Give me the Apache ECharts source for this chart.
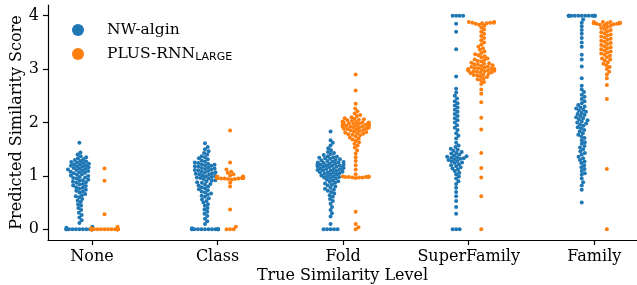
<!DOCTYPE html>
<html>
<head>
<meta charset="utf-8">
<script src="https://cdn.jsdelivr.net/npm/echarts@6/dist/echarts.min.js"></script>
<style>
  html, body { margin: 0; padding: 0; background: #fff; }
  #chart-container { width: 637px; height: 285px; }
</style>
</head>
<body>
<div id="chart-container"></div>
<script>
var categories = ["None", "Class", "Fold", "SuperFamily", "Family"];
var methods = ["NW-algin", "PLUS-RNN_LARGE"];
var yTicks = [0, 1, 2, 3, 4];

// NW-algin scores, one array per true similarity level
var nwNone = [0, 0, 0, 0, 0, 0, 0, 0, 0, 0, 0, 0, 0.03, 0.05,
  0.12, 0.17, 0.22, 0.27, 0.31, 0.36, 0.40, 0.44, 0.47, 0.51, 0.54, 0.57,
  0.60, 0.62, 0.64, 0.66, 0.69, 0.71, 0.72, 0.74, 0.76, 0.78, 0.79, 0.81, 0.82, 0.84, 0.85, 0.87,
  0.88, 0.89, 0.91, 0.92, 0.93, 0.95, 0.96, 0.97, 0.98, 1.00, 1.01, 1.02, 1.03, 1.05, 1.06, 1.07,
  1.08, 1.09, 1.10, 1.11, 1.12, 1.13, 1.14, 1.15, 1.16, 1.17, 1.18, 1.19, 1.20, 1.21, 1.22, 1.23,
  1.24, 1.25, 1.26, 1.27, 1.28, 1.30, 1.31, 1.33, 1.35, 1.37, 1.40, 1.44, 1.62];
var nwClass = [0, 0, 0, 0, 0, 0, 0, 0, 0, 0, 0, 0, 0.02,
  0.10, 0.15, 0.20, 0.25, 0.29, 0.33, 0.37, 0.40, 0.44, 0.47, 0.50, 0.53, 0.56, 0.58, 0.61, 0.63,
  0.65, 0.67, 0.69, 0.71, 0.73, 0.75, 0.77, 0.79,
  0.80, 0.82, 0.84, 0.85, 0.87, 0.88, 0.90, 0.91, 0.92, 0.94, 0.95, 0.96, 0.97, 0.98, 0.99, 1.00,
  1.01, 1.02, 1.03, 1.04, 1.05, 1.06, 1.07, 1.08, 1.09, 1.10, 1.11, 1.12, 1.13, 1.14, 1.15, 1.16,
  1.17, 1.18, 1.19, 1.20, 1.21, 1.22, 1.23, 1.24, 1.25, 1.27, 1.29, 1.31, 1.33, 1.35, 1.37, 1.40,
  1.43, 1.46, 1.50, 1.54, 1.61];
var nwFold = [0, 0, 0, 0, 0, 0.10, 0.24, 0.30, 0.36, 0.42, 0.48, 0.53, 0.57, 0.61, 0.64, 0.67,
  0.70, 0.72, 0.74, 0.76, 0.78, 0.80, 0.82, 0.84, 0.86, 0.87, 0.89, 0.90, 0.92, 0.93, 0.95, 0.96,
  0.97, 0.98, 0.99, 1.00, 1.01, 1.02, 1.03, 1.04, 1.05, 1.06, 1.07, 1.07, 1.08, 1.09, 1.10, 1.10,
  1.11, 1.12, 1.13, 1.13, 1.14, 1.15, 1.15, 1.16, 1.17, 1.17, 1.18, 1.19, 1.19, 1.20, 1.21, 1.21,
  1.22, 1.23, 1.23, 1.24, 1.25, 1.25, 1.26, 1.27, 1.28, 1.29, 1.30, 1.31, 1.32, 1.33, 1.34, 1.35,
  1.36, 1.37, 1.39, 1.41, 1.43, 1.45, 1.48, 1.52, 1.57, 1.62, 1.67, 1.83];
var nwSuper = [0, 0, 0, 0.29, 0.42, 0.53, 0.62, 0.70, 0.78, 0.85, 0.90, 0.95, 0.99, 1.03, 1.06,
  1.09, 1.12, 1.14, 1.16, 1.18, 1.20, 1.22, 1.24, 1.25, 1.27, 1.28, 1.30, 1.31, 1.32, 1.33, 1.34,
  1.35, 1.36, 1.37, 1.38, 1.40, 1.42, 1.43, 1.45, 1.47, 1.49, 1.51, 1.54, 1.57, 1.62, 1.70, 1.75,
  1.80, 1.86, 1.90, 1.95, 2.00, 2.04, 2.08, 2.12, 2.16, 2.20, 2.24, 2.28, 2.32, 2.36, 2.40, 2.45,
  2.50, 2.56, 2.63, 2.86, 3.37, 3.70, 3.85, 4, 4, 4, 4];
var nwFamily = [0.50, 0.74, 0.82, 0.88, 0.95, 1.02, 1.05, 1.09, 1.13, 1.16, 1.20, 1.24, 1.27,
  1.30, 1.33, 1.36, 1.40, 1.43, 1.46, 1.50, 1.53, 1.56, 1.60, 1.63, 1.67, 1.71, 1.74, 1.77, 1.80,
  1.83, 1.86, 1.89, 1.91, 1.94, 1.96, 1.98, 2.00, 2.02, 2.04, 2.06, 2.08, 2.10, 2.12, 2.14, 2.16,
  2.18, 2.20, 2.22, 2.24, 2.26, 2.28, 2.30, 2.33, 2.36, 2.40, 2.44, 2.48, 2.52, 2.57, 2.62, 2.69,
  2.83, 3.05, 3.18, 3.27, 3.42, 3.50, 3.58, 3.66, 3.73, 3.80, 3.87, 3.93,
  4, 4, 4, 4, 4, 4, 4, 4, 4, 4, 4, 4, 4];

// PLUS-RNN (large) scores
var rnnNone = [0, 0, 0, 0, 0, 0, 0, 0, 0, 0, 0, 0, 0, 0, 0, 0, 0, 0, 0, 0, 0, 0, 0, 0, 0, 0, 0, 0,
  0, 0, 0, 0, 0, 0, 0, 0, 0, 0, 0, 0, 0.02, 0.05, 0.28, 0.91, 1.14];
var rnnClass = [0, 0, 0, 0.05, 0.37, 0.80, 0.87, 0.93, 0.94, 0.94, 0.95, 0.95, 0.95, 0.96, 0.96,
  0.96, 0.96, 0.96, 0.96, 0.97, 0.97, 0.97, 0.97, 0.97, 0.97, 0.97, 0.98, 0.98, 0.98, 0.98, 0.99,
  0.99, 1.01, 1.03, 1.06, 1.08, 1.12, 1.25, 1.85];
var rnnFold = [0, 0.04, 0.10, 0.33, 0.96, 0.97, 0.97, 0.97, 0.98, 0.98, 0.98, 0.98, 0.99, 0.99,
  1.03, 1.12, 1.20, 1.28, 1.35, 1.42, 1.48, 1.53, 1.57, 1.60, 1.63, 1.66, 1.68, 1.70, 1.72, 1.74,
  1.76, 1.77, 1.78, 1.79, 1.80, 1.81, 1.82, 1.83, 1.84, 1.85, 1.86, 1.87, 1.88, 1.88, 1.89, 1.90,
  1.90, 1.91, 1.92, 1.92, 1.93, 1.93, 1.94, 1.94, 1.95, 1.95, 1.96, 1.96, 1.97, 1.97, 1.98, 1.98,
  1.99, 1.99, 2.00, 2.00, 2.01, 2.01, 2.02, 2.03, 2.04, 2.05, 2.06, 2.07, 2.08, 2.10, 2.12, 2.14,
  2.17, 2.21, 2.26, 2.35, 2.60, 2.90];
var rnnSuper = [0, 0.62, 0.97, 1.15, 1.43, 1.87, 2.09, 2.38, 2.54, 2.62, 2.72, 2.76, 2.79, 2.81,
  2.83, 2.85, 2.86, 2.88, 2.89, 2.90, 2.91, 2.92, 2.93, 2.94, 2.95, 2.96, 2.96, 2.97, 2.97, 2.98,
  2.98, 2.99, 2.99, 3.00, 3.00, 3.01, 3.01, 3.02, 3.03, 3.04, 3.05, 3.06, 3.07, 3.08, 3.09, 3.10,
  3.11, 3.12, 3.14, 3.15, 3.17, 3.18, 3.20, 3.22, 3.24, 3.26, 3.28, 3.30, 3.33, 3.36, 3.39, 3.42,
  3.46, 3.50, 3.54, 3.58, 3.62, 3.66, 3.70, 3.74, 3.78, 3.81, 3.83, 3.85, 3.86, 3.86, 3.87, 3.87,
  3.87, 3.88, 3.88];
var rnnFamily = [0, 1.13, 2.44, 2.70, 2.83, 2.90, 2.95, 3.00, 3.04, 3.07, 3.10, 3.13, 3.16, 3.18,
  3.20, 3.22, 3.25, 3.27, 3.29, 3.31, 3.33, 3.35, 3.37, 3.39, 3.41, 3.43, 3.45, 3.47, 3.49, 3.51,
  3.53, 3.55, 3.57, 3.59, 3.61, 3.63, 3.65, 3.67, 3.69, 3.71, 3.73, 3.75, 3.77, 3.79, 3.81, 3.82,
  3.83, 3.84, 3.85, 3.85, 3.86, 3.86, 3.86, 3.87, 3.87, 3.87, 3.87, 3.88, 3.88, 3.88];

var nwScores = [nwNone, nwClass, nwFold, nwSuper, nwFamily];
var rnnScores = [rnnNone, rnnClass, rnnFold, rnnSuper, rnnFamily];

var dom = document.getElementById("chart-container");
var myChart = echarts.init(dom, null, { renderer: "canvas" });

var serif = "DejaVu Serif";
var option = {
  animation: false,
  color: ["#1f77b4", "#ff7f0e"],
  grid: { left: 48, right: 0, top: 5, bottom: 45, outerBoundsMode: "none", containLabel: false },
  legend: {
    orient: "vertical",
    left: 72,
    top: 22,
    padding: 0,
    itemWidth: 12,
    itemHeight: 12,
    itemGap: 8,
    icon: "circle",
    data: methods,
    formatter: function (name) {
      if (name === "PLUS-RNN_LARGE") return "{b|PLUS-RNN}{s|LARGE}";
      return "{b|" + name + "}";
    },
    textStyle: {
      padding: [0, 0, 0, 18],
      rich: {
        b: { fontFamily: serif, fontSize: 15.5, color: "#000", lineHeight: 17 },
        s: { fontFamily: "DejaVu Sans", fontSize: 11, color: "#000", padding: [6, 0, 0, 0] },
      },
    },
  },
  xAxis: {
    type: "value",
    min: -0.35,
    max: 4.34,
    name: "True Similarity Level",
    nameLocation: "middle",
    nameGap: 28,
    nameMoveOverlap: false,
    nameTextStyle: { fontFamily: serif, fontSize: 16, color: "#000" },
    splitLine: { show: false },
    axisLine: { onZero: false, lineStyle: { color: "#000", width: 1.2 } },
    axisTick: { customValues: [0, 1, 2, 3, 4], length: 5, lineStyle: { color: "#000", width: 1.2 } },
    axisLabel: {
      customValues: [0, 1, 2, 3, 4],
      margin: 9,
      fontFamily: serif,
      fontSize: 16,
      color: "#000",
      formatter: function (v) { return categories[Math.round(v)]; },
    },
  },
  yAxis: {
    type: "value",
    min: -0.2,
    max: 4.2,
    name: "Predicted Similarity Score",
    nameLocation: "middle",
    nameGap: 23,
    nameMoveOverlap: false,
    nameTextStyle: { fontFamily: serif, fontSize: 16, color: "#000" },
    splitLine: { show: false },
    axisLine: { onZero: false, lineStyle: { color: "#000", width: 1.2 } },
    axisTick: { customValues: yTicks, length: 5, lineStyle: { color: "#000", width: 1.2 } },
    axisLabel: {
      customValues: yTicks,
      margin: 9,
      fontFamily: serif,
      fontSize: 16,
      color: "#000",
    },
  },
  series: [
    { name: methods[0], type: "scatter", symbolSize: 4, itemStyle: { opacity: 1 }, data: [] },
    { name: methods[1], type: "scatter", symbolSize: 4, itemStyle: { opacity: 1 }, data: [] },
  ],
};
myChart.setOption(option);

// beeswarm layout in pixel space, then back to data coords
function swarm(values, cat, dodge) {
  var diam = 3.5, half = 13;
  var center = myChart.convertToPixel({ gridIndex: 0 }, [cat + dodge, 0])[0];
  var pts = values.map(function (v) {
    return { v: v, py: myChart.convertToPixel({ gridIndex: 0 }, [0, v])[1] };
  });
  pts.sort(function (a, b) { return a.v - b.v; });
  var placed = [];
  pts.forEach(function (p) {
    var near = placed.filter(function (q) { return Math.abs(q.py - p.py) < diam; });
    var cands = [0];
    near.forEach(function (q) {
      var dx = Math.sqrt(diam * diam - (q.py - p.py) * (q.py - p.py));
      cands.push(q.dx + dx, q.dx - dx);
    });
    cands.sort(function (a, b) { return Math.abs(a) - Math.abs(b); });
    var best = cands.find(function (c) {
      return near.every(function (q) {
        return (q.dx - c) * (q.dx - c) + (q.py - p.py) * (q.py - p.py) >= diam * diam - 1e-6;
      });
    });
    placed.push({ dx: best === undefined ? 0 : best, py: p.py, v: p.v });
  });
  return placed.map(function (q) {
    var dx = Math.max(-half, Math.min(half, q.dx));
    return [myChart.convertFromPixel({ gridIndex: 0 }, [center + dx, q.py])[0], q.v];
  });
}

var nwPoints = [], rnnPoints = [];
categories.forEach(function (c, i) {
  nwPoints = nwPoints.concat(swarm(nwScores[i], i, -0.1));
  rnnPoints = rnnPoints.concat(swarm(rnnScores[i], i, 0.1));
});
myChart.setOption({ series: [{ data: nwPoints }, { data: rnnPoints }] });

window.addEventListener("resize", myChart.resize);
</script>
</body>
</html>
